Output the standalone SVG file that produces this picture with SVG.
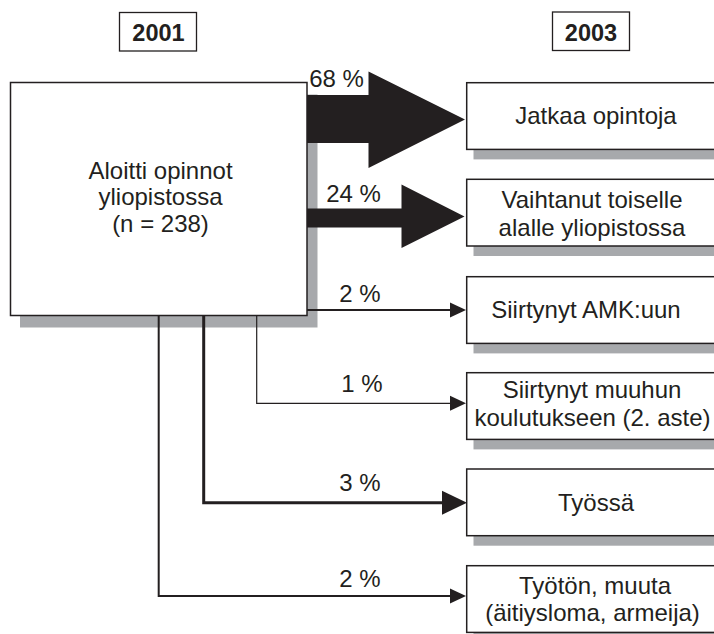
<svg xmlns="http://www.w3.org/2000/svg" width="714" height="634" viewBox="0 0 714 634">
<defs>
<style>
.box{fill:#fff;stroke:#231f20;stroke-width:1.5}
.yr{fill:#fff;stroke:#231f20;stroke-width:1.3}
.sh{fill:#a7a9ac}
.t{font-family:"Liberation Sans",Arial,sans-serif;font-size:24px;fill:#231f20;text-anchor:middle}
.b{font-weight:bold;font-size:23.5px}
.ln{fill:none;stroke:#231f20;stroke-linejoin:miter;stroke-linecap:butt}
.big{fill:#231f20}
</style>
<marker id="hs" markerUnits="userSpaceOnUse" markerWidth="16" markerHeight="15" refX="6" refY="7.5" orient="auto" overflow="visible">
<path d="M0,0 L16,7.5 L0,15 Z" fill="#231f20"/>
</marker>
<marker id="hl" markerUnits="userSpaceOnUse" markerWidth="25" markerHeight="24" refX="10" refY="12" orient="auto" overflow="visible">
<path d="M0,0 L25,12 L0,24 Z" fill="#231f20"/>
</marker>
</defs>

<g id="year2001">
<rect class="yr" x="119.5" y="12.5" width="77" height="38.5"/>
<text class="t b" x="158.5" y="40.5">2001</text>
</g>
<g id="year2003">
<rect class="yr" x="552.5" y="12" width="77" height="38.5"/>
<text class="t b" x="591" y="41">2003</text>
</g>

<g id="start">
<rect class="sh" x="20" y="94.5" width="297.5" height="233"/>
<rect class="box" x="10.5" y="82.5" width="296.5" height="233"/>
<text class="t" x="160.5" y="178.5">Aloitti opinnot</text>
<text class="t" x="160.5" y="205">yliopistossa</text>
<text class="t" x="160.5" y="231.5">(n = 238)</text>
</g>

<g id="n1">
<rect class="sh" x="473.5" y="92.7" width="260" height="66.7"/>
<rect class="box" x="466.7" y="82.7" width="260" height="66.7"/>
<text class="t" x="596" y="123.5">Jatkaa opintoja</text>
</g>
<g id="n2">
<rect class="sh" x="473.5" y="189.3" width="260" height="66.7"/>
<rect class="box" x="466.7" y="179.3" width="260" height="66.7"/>
<text class="t" x="592" y="208">Vaihtanut toiselle</text>
<text class="t" x="592" y="235.5">alalle yliopistossa</text>
</g>
<g id="n3">
<rect class="sh" x="473.5" y="286.7" width="260" height="66.7"/>
<rect class="box" x="466.7" y="276.7" width="260" height="66.7"/>
<text class="t" x="586" y="317.5">Siirtynyt AMK:uun</text>
</g>
<g id="n4">
<rect class="sh" x="473.5" y="382.7" width="260" height="66.7"/>
<rect class="box" x="466.7" y="372.7" width="260" height="66.7"/>
<text class="t" x="592" y="398">Siirtynyt muuhun</text>
<text class="t" x="592.5" y="425.5">koulutukseen (2. aste)</text>
</g>
<g id="n5">
<rect class="sh" x="473.5" y="479" width="260" height="66.7"/>
<rect class="box" x="466.7" y="469" width="260" height="66.7"/>
<text class="t" x="596" y="510.5">Työssä</text>
</g>
<g id="n6">
<rect class="sh" x="473.5" y="575.7" width="260" height="66.7"/>
<rect class="box" x="466.7" y="565.7" width="260" height="66.7"/>
<text class="t" x="595" y="594">Työtön, muuta</text>
<text class="t" x="592.5" y="620.5">(äitiysloma, armeija)</text>
</g>

<g id="connectors">
<polygon class="big" points="307,95 368.5,95 368.5,71.5 465,119.5 368.5,168 368.5,143 307,143"/>
<polygon class="big" points="307,208.5 401.5,208.5 401.5,184.5 464.5,216.5 401.5,248 401.5,227.5 307,227.5"/>
<path class="ln" d="M307,310 H456" stroke-width="2" marker-end="url(#hs)"/>
<path class="ln" d="M256.7,315 V403.3 H456" stroke-width="1.2" marker-end="url(#hs)"/>
<path class="ln" d="M203.7,315 V502.7 H452" stroke-width="3" marker-end="url(#hl)"/>
<path class="ln" d="M158.7,315 V596 H456" stroke-width="2" marker-end="url(#hs)"/>
<text class="t" x="336.5" y="87">68 %</text>
<text class="t" x="353.5" y="201.5">24 %</text>
<text class="t" x="360" y="301.5">2 %</text>
<text class="t" x="362" y="391.5">1 %</text>
<text class="t" x="360" y="490.5">3 %</text>
<text class="t" x="360" y="586.5">2 %</text>
</g>
</svg>
